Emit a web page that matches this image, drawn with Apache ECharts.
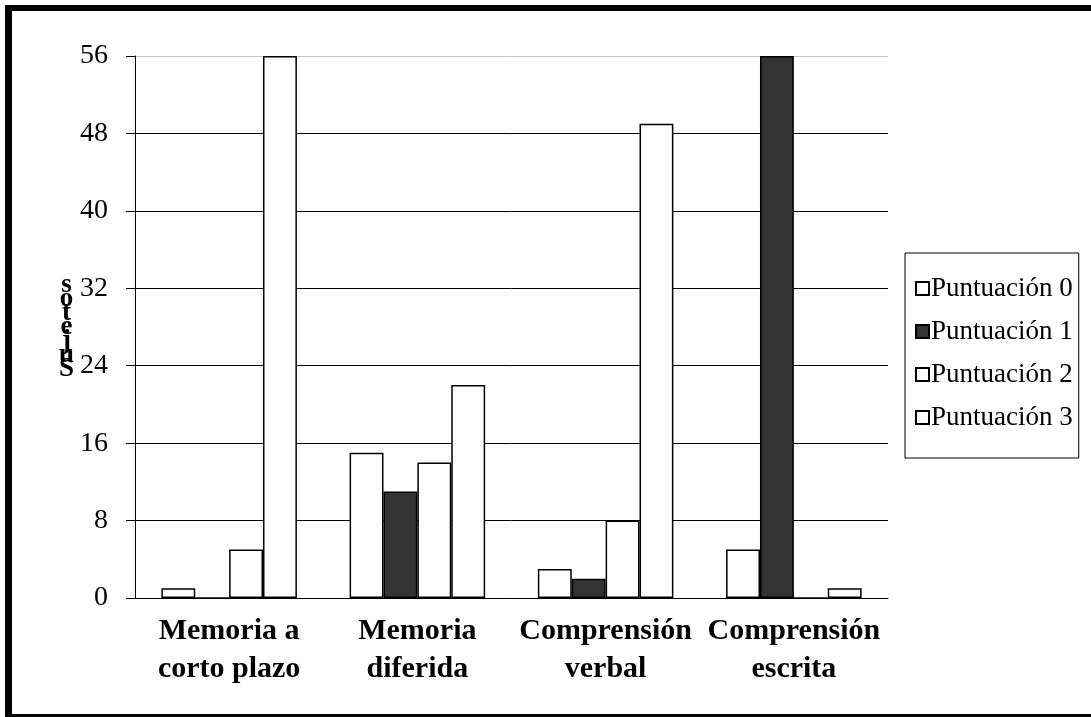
<!DOCTYPE html>
<html>
<head>
<meta charset="utf-8">
<script src="https://cdn.jsdelivr.net/npm/echarts@6/dist/echarts.min.js"></script>
<style>
  html, body { margin: 0; padding: 0; overflow: hidden; background: #fff; }
  #chart { position: absolute; left: 0; top: 0; width: 1091px; height: 717px; }
  /* marco negro del gráfico */
  .marco {
    position: absolute; left: 5px; top: 5px; width: 1200px; height: 715px;
    box-sizing: border-box; border: 6px solid #000; border-left-width: 7px;
    pointer-events: none;
  }
</style>
</head>
<body>
<div id="chart"></div>
<div class="marco"></div>
<script>
// categorías y valores
var categorias = ['Memoria a\ncorto plazo', 'Memoria\ndiferida', 'Comprensión\nverbal', 'Comprensión\nescrita']
var puntuacion0 = [1, 15, 3, 5]
var puntuacion1 = [0, 11, 2, 56]
var puntuacion2 = [5, 14, 8, 0]
var puntuacion3 = [56, 22, 49, 1]
var series_nombres = ['Puntuación 0', 'Puntuación 1', 'Puntuación 2', 'Puntuación 3']
var ejeY = { min: 0, max: 56, interval: 8 }

var fuente = 'Liberation Serif, Times New Roman, serif'
var rellenos = ['#ffffff', '#333333', '#ffffff', '#ffffff']
var datos = [puntuacion0, puntuacion1, puntuacion2, puntuacion3]

var myChart = echarts.init(document.getElementById('chart'))

var option = {
  animation: false,
  backgroundColor: '#ffffff',
  grid: { left: 135, right: 203, top: 56, bottom: 119 },
  legend: {
    orient: 'vertical',
    left: 905,
    top: 253,
    padding: [22, 6, 27, 10],
    borderColor: '#000',
    borderWidth: 1,
    itemWidth: 13,
    itemHeight: 13,
    itemGap: 16,
    icon: 'rect',
    textStyle: { fontFamily: fuente, fontSize: 27, lineHeight: 27, color: '#000', padding: [0, 0, 0, -3] },
    data: series_nombres
  },
  xAxis: {
    type: 'category',
    data: categorias,
    axisLine: { lineStyle: { color: '#000', width: 1 } },
    axisTick: { length: 8, lineStyle: { color: '#000' } },
    axisLabel: {
      interval: 0,
      margin: 14,
      fontFamily: fuente,
      fontSize: 30,
      fontWeight: 'bold',
      lineHeight: 38,
      color: '#000'
    }
  },
  yAxis: {
    type: 'value',
    min: ejeY.min,
    max: ejeY.max,
    interval: ejeY.interval,
    // eje Y con letras apiladas
    name: 's\no\nt\ne\nj\nu\nS',
    nameLocation: 'middle',
    nameRotate: 0,
    nameGap: 65,
    nameTextStyle: {
      fontFamily: fuente, fontSize: 27, fontWeight: 'bold', lineHeight: 14, color: '#000', align: 'center'
    },
    axisLine: { show: true, lineStyle: { color: '#000', width: 1 } },
    axisTick: { show: true, length: 9, lineStyle: { color: '#000' } },
    axisLabel: { margin: 27, fontFamily: fuente, fontSize: 28, color: '#000' },
    splitLine: {
      lineStyle: {
        color: ['#000', '#000', '#000', '#000', '#000', '#000', '#000', '#c8c8c8'],
        width: 1
      }
    }
  },
  series: datos.map(function (d, i) {
    return {
      name: series_nombres[i],
      type: 'bar',
      data: d,
      barGap: 0,
      barCategoryGap: '28%',
      itemStyle: { color: rellenos[i], borderColor: '#000', borderWidth: 1.5 }
    }
  })
}

myChart.setOption(option)
</script>
</body>
</html>
